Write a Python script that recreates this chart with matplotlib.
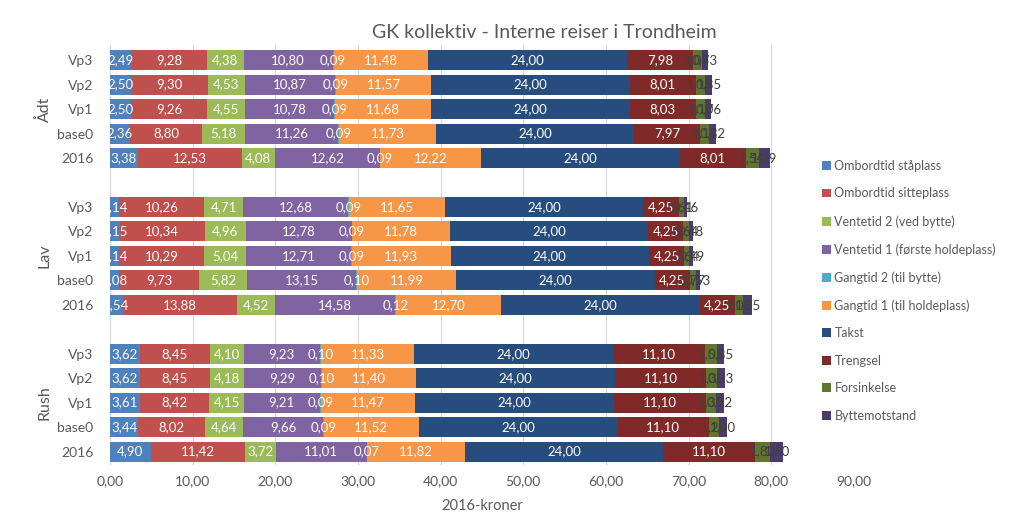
import matplotlib
matplotlib.use("Agg")
import matplotlib.pyplot as plt
import numpy as np

plt.rcParams['font.family'] = ['Lato', 'DejaVu Sans']

groups = ["Ådt", "Lav", "Rush"]
scenarios = ["Vp3", "Vp2", "Vp1", "base0", "2016"]

series_names = ["Ombordtid ståplass", "Ombordtid sitteplass", "Ventetid 2 (ved bytte)",
                "Ventetid 1 (første holdeplass)", "Gangtid 2 (til bytte)",
                "Gangtid 1 (til holdeplass)", "Takst", "Trengsel", "Forsinkelse",
                "Byttemotstand"]
colors = ["#4f81bd", "#c0504d", "#9bbb59", "#8064a2", "#4bacc6", "#f79646",
          "#264d7e", "#7f2a28", "#5f7530", "#4a3b6b"]

# order: Ådt (Vp3,Vp2,Vp1,base0,2016), Lav (...), Rush (...)
ombord_staa = [2.49, 2.50, 2.50, 2.36, 3.38, 1.14, 1.15, 1.14, 1.08, 1.54, 3.62, 3.62, 3.61, 3.44, 4.90]
ombord_sitte = [9.28, 9.30, 9.26, 8.80, 12.53, 10.26, 10.34, 10.29, 9.73, 13.88, 8.45, 8.45, 8.42, 8.02, 11.42]
ventetid2 = [4.38, 4.53, 4.55, 5.18, 4.08, 4.71, 4.96, 5.04, 5.82, 4.52, 4.10, 4.18, 4.15, 4.64, 3.72]
ventetid1 = [10.80, 10.87, 10.78, 11.26, 12.62, 12.68, 12.78, 12.71, 13.15, 14.58, 9.23, 9.29, 9.21, 9.66, 11.01]
gangtid2 = [0.09, 0.09, 0.09, 0.09, 0.09, 0.09, 0.09, 0.09, 0.10, 0.12, 0.10, 0.10, 0.09, 0.09, 0.07]
gangtid1 = [11.48, 11.57, 11.68, 11.73, 12.22, 11.65, 11.78, 11.93, 11.99, 12.70, 11.33, 11.40, 11.47, 11.52, 11.82]
takst = [24.00] * 15
trengsel = [7.98, 8.01, 8.03, 7.97, 8.01, 4.25, 4.25, 4.25, 4.25, 4.25, 11.10, 11.10, 11.10, 11.10, 11.10]
forsinkelse = [1.08, 1.10, 1.10, 1.12, 1.54, 0.61, 0.64, 0.64, 0.77, 1.03, 1.55, 1.30, 1.30, 1.20, 1.80]
byttemotstand = [0.73, 0.85, 0.76, 0.82, 1.39, 0.46, 0.48, 0.49, 0.53, 1.05, 0.85, 0.93, 0.92, 1.00, 1.60]

series = [ombord_staa, ombord_sitte, ventetid2, ventetid1, gangtid2, gangtid1,
          takst, trengsel, forsinkelse, byttemotstand]

# positions: one empty slot between groups
ypos = []
for g in range(len(groups)):
    for s in range(len(scenarios)):
        ypos.append(g * (len(scenarios) + 1) + s)
ypos = np.array(ypos, dtype=float)

fig = plt.figure(figsize=(10.24, 5.31), dpi=100)
W, H = 1024, 531
ax = fig.add_axes([110 / W, 1 - 465 / H, (854 - 110) / W, (465 - 45) / H])

left = np.zeros(len(ypos))
for i, (vals, name, c) in enumerate(zip(series, series_names, colors)):
    vals = np.array(vals)
    bars = ax.barh(ypos, vals, left=left, height=0.82, color=c, label=name, zorder=2)
    lab_color = "white" if i < 8 else "#404040"
    labels = [f"{v:.2f}".replace(".", ",") for v in vals]
    txts = ax.bar_label(bars, labels=labels, label_type="center", color=lab_color,
                        fontsize=9.5)
    for t in txts:
        t.set_clip_on(True)
    left += vals

ax.set_xlim(0, 90)
ax.set_ylim(len(groups) * (len(scenarios) + 1) - 1 - 0.45, -0.62)
ax.set_xticks(np.arange(0, 91, 10))
ax.set_xticklabels([f"{v:.2f}".replace(".", ",") for v in np.arange(0, 91, 10)],
                   color="#595959", fontsize=10)
ax.set_yticks(ypos)
ax.set_yticklabels(scenarios * len(groups), color="#595959", fontsize=10)
ax.tick_params(axis="both", length=0)
ax.tick_params(axis="y", pad=12)
ax.tick_params(axis="x", pad=7)
ax.grid(axis="x", color="#d9d9d9", linewidth=0.8, zorder=0)
for sp in ax.spines.values():
    sp.set_visible(False)

ax.set_xlabel("2016-kroner", color="#595959", fontsize=10.5, labelpad=9)

# group labels
for g, name in enumerate(groups):
    yc = g * (len(scenarios) + 1) + (len(scenarios) - 1) / 2
    ax.text(-0.088, yc, name, transform=ax.get_yaxis_transform(), rotation=90,
            ha="center", va="center", color="#595959", fontsize=11.5)

fig.text(544 / W, 1 - 32 / H, "GK kollektiv - Interne reiser i Trondheim",
         ha="center", va="center", color="#595959", fontsize=14)

handles, labs = ax.get_legend_handles_labels()
leg = fig.legend(handles, labs, loc="upper left", bbox_to_anchor=(817 / W, 1 - 155 / H),
                 frameon=False, fontsize=9, handlelength=0.7, handleheight=0.7,
                 handletextpad=0.3, labelspacing=1.24, borderaxespad=0)
for t in leg.get_texts():
    t.set_color("#595959")

fig.savefig("out.png", dpi=100)
